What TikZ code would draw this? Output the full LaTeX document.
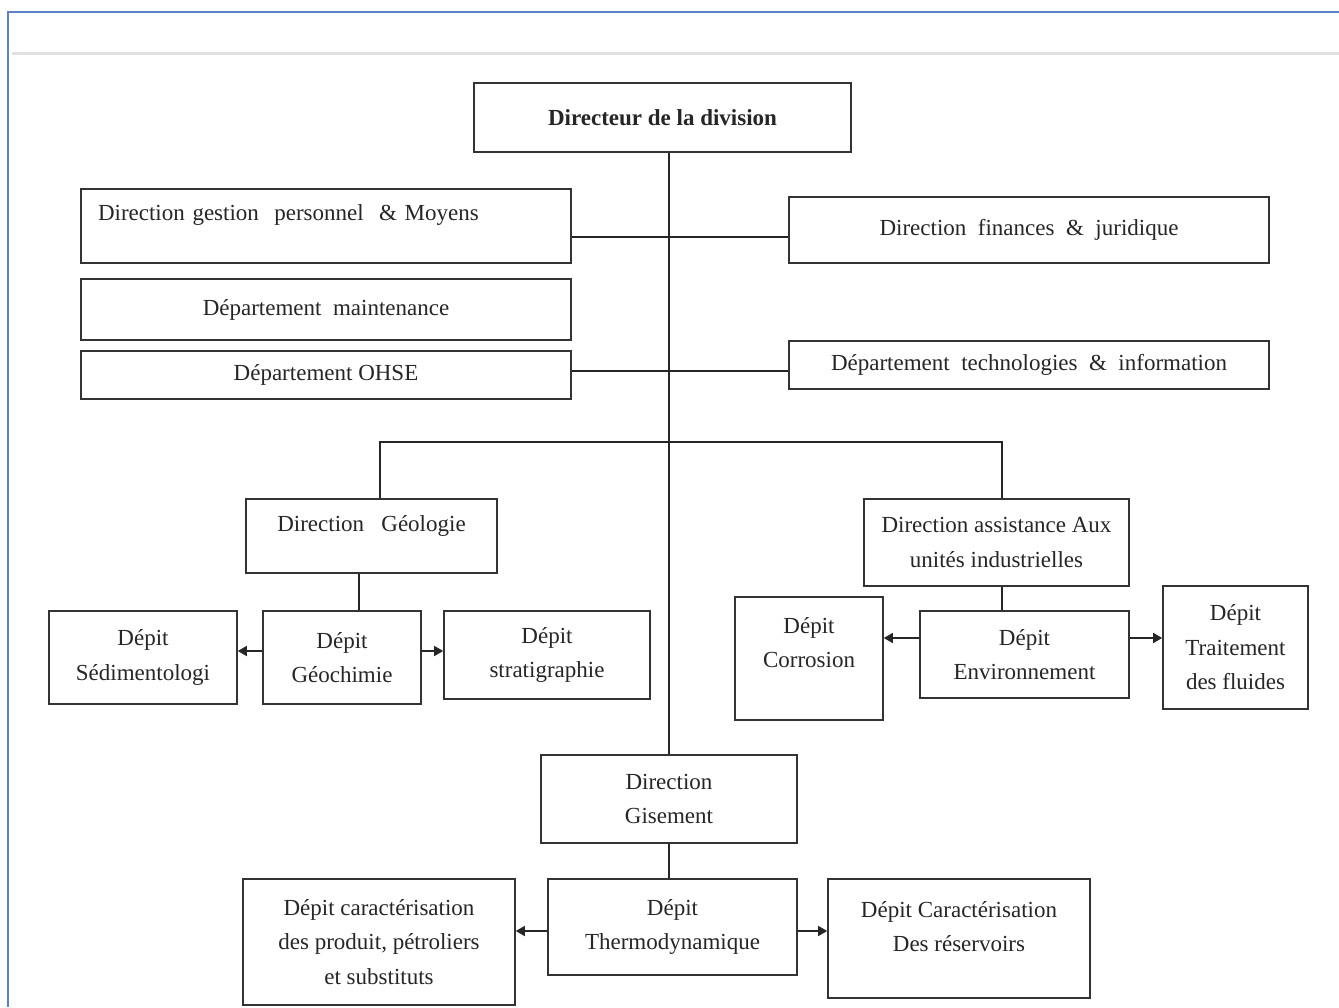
\documentclass[tikz,border=0pt]{standalone}
\usepackage{fontspec}
\setmainfont{Liberation Serif}
\usetikzlibrary{arrows.meta}
\begin{document}
\begin{tikzpicture}[x=1pt,y=-1pt,
  box/.style={draw=black!80, line width=1.6pt, fill=white, inner sep=2pt, align=center,
    font=\fontsize{23}{34.5}\selectfont, text=black!85},
  conn/.style={draw=black!85, line width=1.6pt},
  arr/.style={conn, -{Triangle[length=9pt,width=10pt]}},
  frame/.style={draw={rgb,255:red,90;green,130;blue,200}, line width=1.6pt}]
\useasboundingbox (0,0) rectangle (1339,1007);
\fill[white] (0,0) rectangle (1339,1007);
% page frame
\draw[frame] (8,1007) -- (8,12) -- (1339,12);
\draw[black!12, line width=3pt] (12,53) -- (1339,53);

% nodes
\node[box, font=\bfseries\fontsize{23}{34.5}\selectfont, minimum width=377pt, minimum height=69pt] (dir) at (662.5,117.5) {Directeur de la division};
\node[box, align=left, text width=456pt, inner xsep=17pt, minimum height=74pt, text depth=26pt] (gest) at (326,226) {Direction gestion\ \ personnel\ \ \&\ Moyens};
\node[box, minimum width=490pt, minimum height=61pt] (maint) at (326,309.5) {Département\ \ maintenance};
\node[box, minimum width=490pt, minimum height=48pt] (ohse) at (326,375) {Département OHSE};
\node[box, minimum width=480pt, minimum height=66pt] (fin) at (1029,230) {Direction\ \ finances\ \ \&\ \ juridique};
\node[box, minimum width=480pt, minimum height=48pt] (tech) at (1029,365) {Département\ \ technologies\ \ \&\ \ information};

\node[box, minimum width=251pt, minimum height=74pt, text depth=26pt] (geol) at (371.5,536) {Direction\ \ \ Géologie};
\node[box, minimum width=188pt, minimum height=93pt] (sed) at (143,657.5) {Dépit\\Sédimentologi};
\node[box, minimum width=158pt, minimum height=93pt] (geoc) at (342,657.5) {Dépit\\Géochimie};
\node[box, minimum width=206pt, minimum height=88pt] (strat) at (547,655) {Dépit\\stratigraphie};

\node[box, minimum width=265pt, minimum height=87pt] (assist) at (996.5,542.5) {Direction assistance Aux\\unités industrielles};
\node[box, minimum width=148pt, minimum height=123pt, text depth=32pt] (corr) at (809,658.5) {Dépit\\Corrosion};
\node[box, minimum width=209pt, minimum height=87pt] (env) at (1024.5,654.5) {Dépit\\Environnement};
\node[box, minimum width=145pt, minimum height=123pt] (trait) at (1235.5,647.5) {Dépit\\Traitement\\des fluides};

\node[box, minimum width=256pt, minimum height=88pt] (gis) at (669,799) {Direction\\Gisement};
\node[box, minimum width=249pt, minimum height=96pt] (thermo) at (672.5,927) {Dépit\\Thermodynamique};
\node[box, minimum width=272pt, minimum height=126pt] (carp) at (379,942) {Dépit caractérisation\\des produit, pétroliers\\et substituts};
\node[box, minimum width=262pt, minimum height=119pt, text depth=24pt] (carr) at (959,938.5) {Dépit Caractérisation\\Des réservoirs};

% helper coordinates
\coordinate (t1) at (669,237);
\coordinate (t2) at (669,371);
\coordinate (gl) at (380,442);
\coordinate (gr) at (1002,442);
\coordinate (gv) at (359,0);
\coordinate (ya) at (0,651);
\coordinate (yb) at (0,638);
\coordinate (yc) at (0,931);

% connectors
\draw[conn] (dir.south -| gis.north) -- (gis.north);
\draw[conn] (gest.east |- t1) -- (fin.west |- t1);
\draw[conn] (ohse.east |- t2) -- (tech.west |- t2);
\draw[conn] (gl |- geol.north) -- (gl) -- (gr) -- (gr |- assist.north);
\draw[conn] (geol.south -| gv) -- (geoc.north -| gv);
\draw[arr] (geoc.west |- ya) -- (sed.east |- ya);
\draw[arr] (geoc.east |- ya) -- (strat.west |- ya);
\draw[conn] (assist.south -| gr) -- (env.north -| gr);
\draw[arr] (env.west |- yb) -- (corr.east |- yb);
\draw[arr] (env.east |- yb) -- (trait.west |- yb);
\draw[conn] (gis.south) -- (thermo.north -| gis.south);
\draw[arr] (thermo.west |- yc) -- (carp.east |- yc);
\draw[arr] (thermo.east |- yc) -- (carr.west |- yc);
\end{tikzpicture}
\end{document}
